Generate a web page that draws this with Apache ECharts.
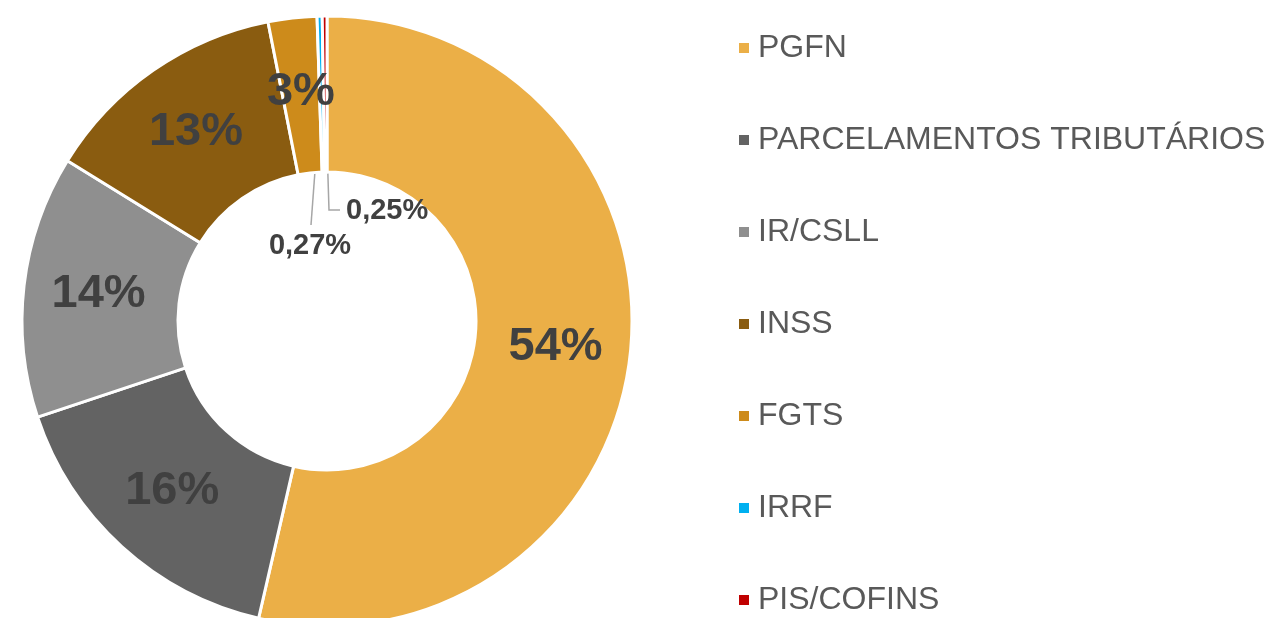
<!DOCTYPE html>
<html>
<head>
<meta charset="utf-8">
<script src="https://cdn.jsdelivr.net/npm/echarts@6/dist/echarts.min.js"></script>
<style>
  html, body { margin: 0; padding: 0; background: #fff; }
  #chart { width: 1269px; height: 618px; }
</style>
</head>
<body>
<div id="chart"></div>
<script>
// categorias e valores (%)
var categories = ['PGFN', 'PARCELAMENTOS TRIBUTÁRIOS', 'IR/CSLL', 'INSS', 'FGTS', 'IRRF', 'PIS/COFINS'];
var values = [53.6, 16.3, 13.9, 13.1, 2.58, 0.27, 0.25];
var colors = ['#EBAF47', '#636363', '#8F8F8F', '#8A5C10', '#CD8B1B', '#00B0F0', '#C00000'];

var cx = 327, cy = 321, rIn = 149, rOut = 305;

var chart = echarts.init(document.getElementById('chart'));

// ângulo médio de cada fatia (horário a partir do topo)
var total = values.reduce(function (a, b) { return a + b; }, 0);
var midAngles = [];
var acc = 0;
values.forEach(function (v) {
  midAngles.push((acc + v / 2) / total * 2 * Math.PI);
  acc += v;
});
function ringPoint(i, r) {
  return [cx + r * Math.sin(midAngles[i]), cy - r * Math.cos(midAngles[i])];
}

var smallLabel = {
  position: 'outside',
  fontSize: 29,
  fontWeight: 'bold',
  color: '#404040'
};
var smallLine = { show: true, lineStyle: { color: '#A6A6A6', width: 1.5 } };

var data = categories.map(function (name, i) {
  var item = { name: name, value: values[i], itemStyle: { color: colors[i] } };
  if (values[i] < 1) {
    item.label = smallLabel;
    item.labelLine = smallLine;
  }
  return item;
});

chart.setOption({
  animation: false,
  textStyle: { fontFamily: 'Liberation Sans, Arial, sans-serif' },
  legend: {
    orient: 'vertical',
    left: 737,
    top: 32,
    padding: 0,
    icon: 'rect',
    itemWidth: 12,
    itemHeight: 12,
    itemGap: 60,
    selectedMode: false,
    data: categories,
    textStyle: {
      fontSize: 32,
      lineHeight: 32,
      color: '#595959',
      padding: [0, 0, 0, 3],
      fontFamily: 'Liberation Sans, Arial, sans-serif'
    }
  },
  series: [{
    type: 'pie',
    center: [cx, cy],
    radius: [rIn, rOut],
    startAngle: 90,
    clockwise: true,
    avoidLabelOverlap: false,
    itemStyle: { borderColor: '#fff', borderWidth: 3 },
    label: {
      position: 'inside',
      fontSize: 47,
      fontWeight: 'bold',
      color: '#404040',
      formatter: function (p) {
        if (p.value < 1) return p.value.toFixed(2).replace('.', ',') + '%';
        return Math.round(p.value / total * 100) + '%';
      }
    },
    labelLine: { show: false },
    labelLayout: function (params) {
      var i = params.dataIndex;
      if (i === 5) {
        return {
          x: cx - 17, y: cy - 75, align: 'center', verticalAlign: 'middle',
          labelLinePoints: [ringPoint(i, 235), [cx - 16, cy - 96], [cx - 16, cy - 96]]
        };
      }
      if (i === 6) {
        return {
          x: cx + 19, y: cy - 110, align: 'left', verticalAlign: 'middle',
          labelLinePoints: [ringPoint(i, 235), [cx + 2, cy - 111], [cx + 13, cy - 111]]
        };
      }
    },
    data: data
  }]
});
</script>
</body>
</html>
